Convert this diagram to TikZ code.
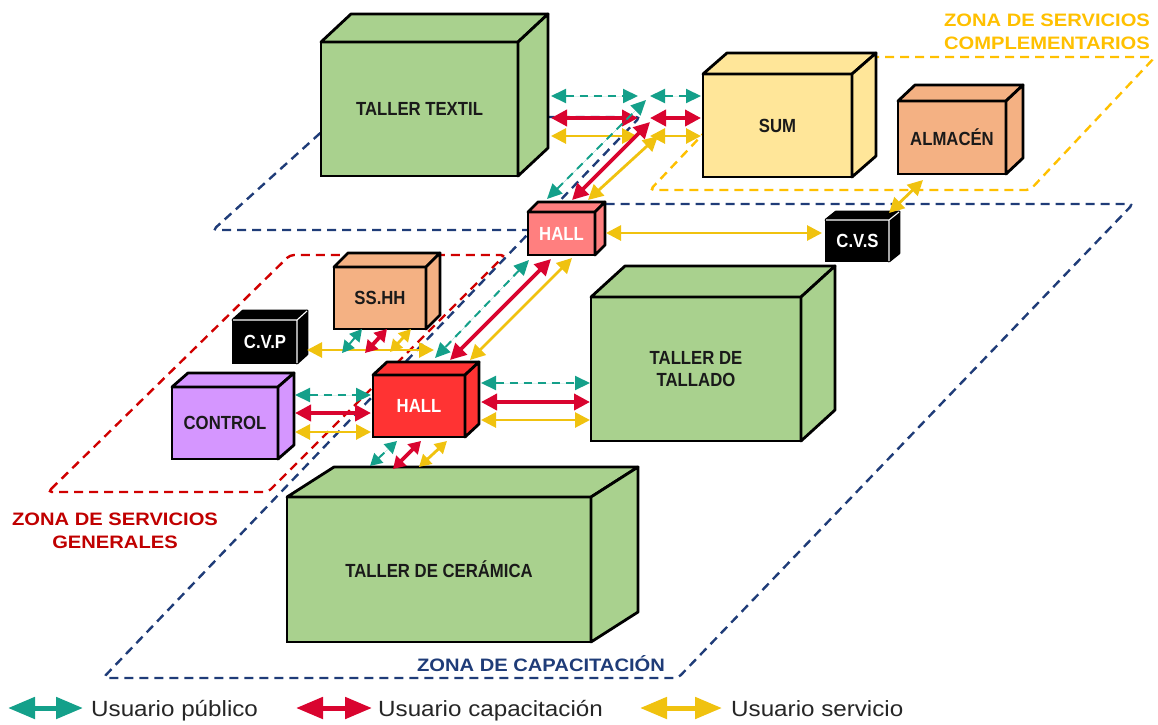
\documentclass[tikz,border=0pt]{standalone}
\usepackage{fontspec}
\setmainfont{Liberation Sans}
\newfontfamily\boxfont[FakeStretch=0.88]{Liberation Sans}
\newfontfamily\zonefont[FakeStretch=1.12]{Liberation Sans}
\newfontfamily\legfont[FakeStretch=1.1]{Liberation Sans}
\usetikzlibrary{arrows.meta}
\definecolor{gr}{HTML}{A9D18E}
\definecolor{sumc}{HTML}{FFE699}
\definecolor{peach}{HTML}{F4B183}
\definecolor{pinkh}{HTML}{FF7F7F}
\definecolor{hallr}{HTML}{FF3333}
\definecolor{purp}{HTML}{D596FF}
\definecolor{tealc}{HTML}{14A08A}
\definecolor{redc}{HTML}{D9042F}
\definecolor{yelc}{HTML}{F0C20F}
\definecolor{navy}{HTML}{1F3C78}
\definecolor{zred}{HTML}{D00000}
\definecolor{zredt}{HTML}{C00000}
\definecolor{zyel}{HTML}{FFC000}
\definecolor{txt}{HTML}{1A1A1A}
\definecolor{legt}{HTML}{262626}
\newcommand\mycube[9]{%
  \node[boxface, fill=#8, minimum width={#4-#2}, minimum height={#5-#3}] (#1) at ({(#2+#4)/2},{(#3+#5)/2}) {#9};
  \draw[boxedge, fill=#8] (#1.north west) -- ([shift={(#6,#7)}]#1.north west) -- ([shift={(#6,#7)}]#1.north east) -- (#1.north east) -- cycle;
  \draw[boxedge, fill=#8] (#1.north east) -- ([shift={(#6,#7)}]#1.north east) -- ([shift={(#6,#7)}]#1.south east) -- (#1.south east) -- cycle;
}
\begin{document}
\begin{tikzpicture}[x=1pt,y=-1pt,
  boxface/.style={draw=black, line width=2.8pt, inner sep=0pt, outer sep=0pt, align=center,
    font=\boxfont\bfseries\fontsize{19}{22}\selectfont, text=txt},
  boxedge/.style={draw=black, line width=2.8pt, line join=round},
  zone/.style={line width=2.4pt, dash pattern=on 9pt off 6pt, rounded corners=4pt},
  zlabel/.style={font=\zonefont\bfseries\fontsize{18}{23.5}\selectfont, align=center, inner sep=0pt},
  leg/.style={font=\legfont\fontsize{22}{24}\selectfont, text=legt, inner sep=0pt, anchor=base west},
  upub/.style={draw=tealc, fill=tealc, line width=2pt, dash pattern=on 8pt off 6pt,
    {Triangle[length=15pt,width=14pt]}-{Triangle[length=15pt,width=14pt]}},
  ucap/.style={draw=redc, fill=redc, line width=3.8pt,
    {Triangle[length=16pt,width=16pt]}-{Triangle[length=16pt,width=16pt]}},
  userv/.style={draw=yelc, fill=yelc, line width=2.8pt,
    {Triangle[length=15pt,width=15pt]}-{Triangle[length=15pt,width=15pt]}},
  spub/.style={upub, {Triangle[length=12pt,width=13pt]}-{Triangle[length=12pt,width=13pt]}},
  scap/.style={ucap, {Triangle[length=12pt,width=14pt]}-{Triangle[length=12pt,width=14pt]}},
  sserv/.style={userv, {Triangle[length=12pt,width=13pt]}-{Triangle[length=12pt,width=13pt]}},
  lgarrow/.style={line width=5pt, {Triangle[length=27pt,width=21pt]}-{Triangle[length=27pt,width=21pt]}}
]
\useasboundingbox (0,0) rectangle (1158,724);

% ---------- zones
\draw[zone, draw=navy] (531,230) -- (213,230) -- (338,117) -- (640,117) -- (103,678) -- (678,678) -- (1133,204) -- (560,204);
\draw[zone, draw=zred] (48,492) -- (290,255) -- (505,255) -- (268,492) -- cycle;
\draw[zone, draw=zyel] (776,57) -- (1155,57) -- (1030,190) -- (650,190) -- cycle;

% ---------- boxes
\mycube{textil}{321}{42}{518}{176}{30}{-28}{gr}{TALLER TEXTIL}
\mycube{sum}{703}{74}{852}{177}{24}{-21}{sumc}{SUM}
\mycube{alm}{898}{101}{1006}{174}{17}{-16}{peach}{ALMACÉN}
\mycube{hallA}{528}{212}{595}{255}{10}{-10}{pinkh}{\textcolor{white}{HALL}}
\mycube{cvs}{826}{220}{889}{261}{10}{-8}{black}{\textcolor{white}{C.V.S}}
\mycube{sshh}{334}{267}{426}{329}{14}{-14}{peach}{SS.HH}
\mycube{cvp}{233}{320}{297}{363}{10}{-9}{black}{\textcolor{white}{C.V.P}}
\mycube{ctrl}{172}{387}{278}{459}{16}{-14}{purp}{CONTROL}
\mycube{hallB}{373}{375}{465}{437}{14}{-13}{hallr}{\textcolor{white}{HALL}}
\mycube{tallado}{591}{297}{801}{441}{34}{-31}{gr}{TALLER DE\\TALLADO}
\mycube{ceram}{287}{497}{591}{642}{47}{-30}{gr}{TALLER DE CERÁMICA}
\draw[white, line width=1.1pt] (cvp.north west) -- (cvp.north east) -- (cvp.south east) (cvp.north east) -- ([shift={(10,-9)}]cvp.north east);
\draw[white, line width=1.1pt] (cvs.north west) -- (cvs.north east) -- (cvs.south east) (cvs.north east) -- ([shift={(10,-8)}]cvs.north east);

% ---------- connector end points
\coordinate (tA) at (551,96);  \coordinate (tB) at (638,96);  \coordinate (tC) at (650,96);  \coordinate (tD) at (701,96);
\coordinate (rA) at (551,118); \coordinate (rB) at (638,118); \coordinate (rC) at (650,118); \coordinate (rD) at (701,118);
\coordinate (yA) at (551,136); \coordinate (yB) at (637,136); \coordinate (yC) at (650,136); \coordinate (yD) at (701,136);
\coordinate (tJ) at (646,100); \coordinate (rJ) at (650,122); \coordinate (yJ) at (658,136);
\coordinate (tH1) at (547,199); \coordinate (rH1) at (572,200); \coordinate (yH1) at (588,200);
\coordinate (tH2) at (529,260); \coordinate (rH2) at (551,259); \coordinate (yH2) at (572,258);
\coordinate (tH3) at (435,358); \coordinate (rH3) at (450,360); \coordinate (yH3) at (470,360);
\coordinate (tS1) at (362,329); \coordinate (tS2) at (342,353);
\coordinate (rS1) at (387,329); \coordinate (rS2) at (365,353);
\coordinate (yS1) at (411,329); \coordinate (yS2) at (390,352);
\coordinate (yP1) at (307,350); \coordinate (yP2) at (434,350);
\coordinate (tC1) at (295,395); \coordinate (tC2) at (371,395);
\coordinate (rC1) at (295,413); \coordinate (rC2) at (371,413);
\coordinate (yC1) at (295,432); \coordinate (yC2) at (371,432);
\coordinate (tT1) at (481,383); \coordinate (tT2) at (590,383);
\coordinate (rT1) at (481,402); \coordinate (rT2) at (590,402);
\coordinate (yT1) at (481,420); \coordinate (yT2) at (590,420);
\coordinate (tK1) at (370,466); \coordinate (tK2) at (397,441);
\coordinate (rK1) at (393,469); \coordinate (rK2) at (421,441);
\coordinate (yK1) at (419,467); \coordinate (yK2) at (447,441);
\coordinate (yV1) at (606,233); \coordinate (yV2) at (822,233);
\coordinate (yA1) at (923,180); \coordinate (yA2) at (889,213);

% ---------- connectors
\draw[upub] (tA) -- (tB); \draw[upub] (tC) -- (tD);
\draw[ucap] (rA) -- (rB); \draw[ucap] (rC) -- (rD);
\draw[userv] (yA) -- (yB); \draw[userv] (yC) -- (yD);
\draw[upub] (tH1) -- (tJ);
\draw[ucap] (rH1) -- (rJ);
\draw[userv] (yH1) -- (yJ);
\draw[upub] (tH2) -- (tH3);
\draw[ucap] (rH2) -- (rH3);
\draw[userv] (yH2) -- (yH3);
\draw[userv] (yP1) -- (yP2);
\draw[spub] (tS1) -- (tS2);
\draw[scap] (rS1) -- (rS2);
\draw[sserv] (yS1) -- (yS2);
\draw[upub] (tC1) -- (tC2);
\draw[ucap] (rC1) -- (rC2);
\draw[userv] (yC1) -- (yC2);
\draw[upub] (tT1) -- (tT2);
\draw[ucap] (rT1) -- (rT2);
\draw[userv] (yT1) -- (yT2);
\draw[spub] (tK1) -- (tK2);
\draw[scap] (rK1) -- (rK2);
\draw[sserv] (yK1) -- (yK2);
\draw[userv] (yV1) -- (yV2);
\draw[userv] (yA1) -- (yA2);

% ---------- zone labels
\node[zlabel, text=zyel] (zcomp) at (1047,32) {ZONA DE SERVICIOS\\COMPLEMENTARIOS};
\node[zlabel, text=zredt] (zgen) at (115,531) {ZONA DE SERVICIOS\\GENERALES};
\node[zlabel, text=navy] (zcap) at (541,664) {ZONA DE CAPACITACIÓN};

% ---------- legend
\coordinate (l1a) at (8,708);   \coordinate (l1b) at (83,708);
\coordinate (l2a) at (296,708); \coordinate (l2b) at (372,708);
\coordinate (l3a) at (640,708); \coordinate (l3b) at (722,708);
\draw[lgarrow, draw=tealc, fill=tealc] (l1a) -- (l1b);
\draw[lgarrow, draw=redc, fill=redc] (l2a) -- (l2b);
\draw[lgarrow, draw=yelc, fill=yelc] (l3a) -- (l3b);
\node[leg] (lt1) at (91,716) {Usuario público};
\node[leg] (lt2) at (378,716) {Usuario capacitación};
\node[leg] (lt3) at (731,716) {Usuario servicio};
\end{tikzpicture}
\end{document}
